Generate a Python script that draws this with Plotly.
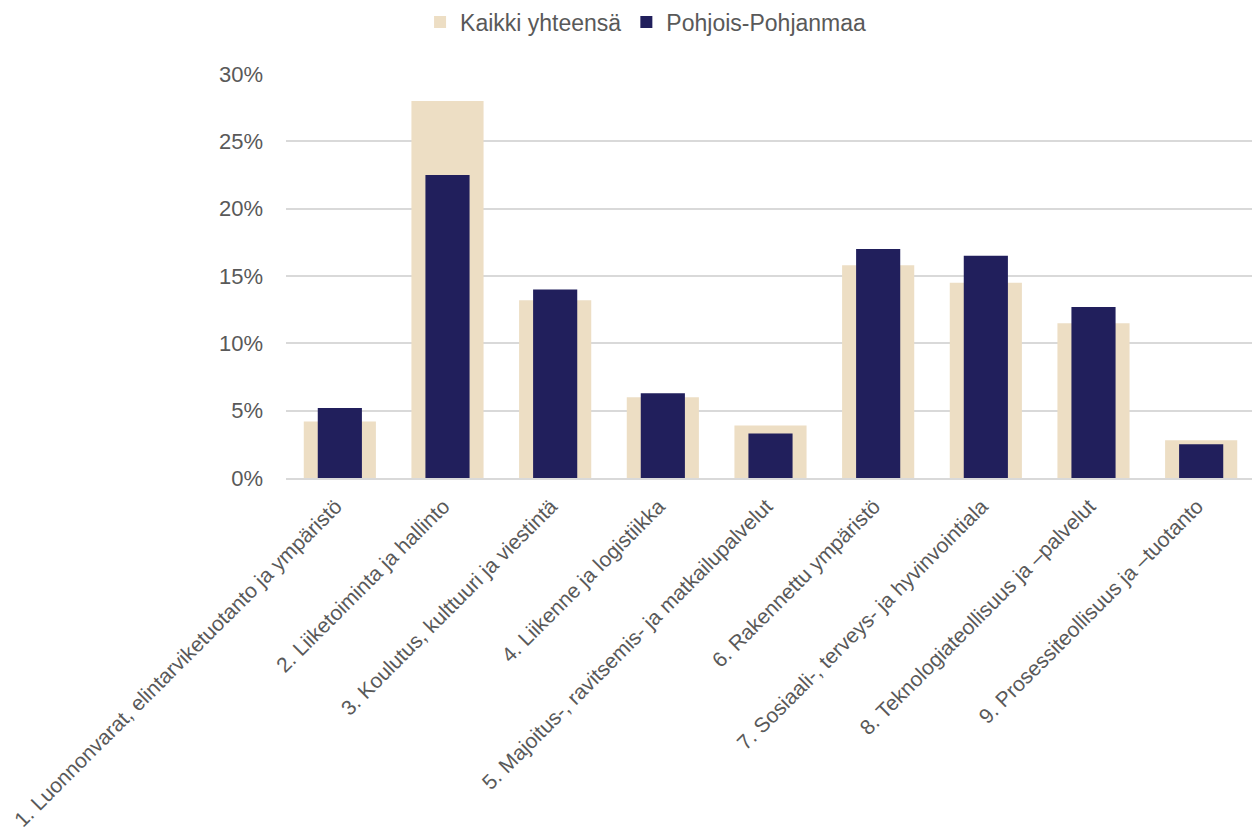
import plotly.graph_objects as go

categories = [
    "1. Luonnonvarat, elintarviketuotanto ja ympäristö",
    "2. Liiketoiminta ja hallinto",
    "3. Koulutus, kulttuuri ja viestintä",
    "4. Liikenne ja logistiikka",
    "5. Majoitus-, ravitsemis- ja matkailupalvelut",
    "6. Rakennettu ympäristö",
    "7. Sosiaali-, terveys- ja hyvinvointiala",
    "8. Teknologiateollisuus ja –palvelut",
    "9. Prosessiteollisuus ja –tuotanto",
]
kaikki = [4.2, 28.0, 13.2, 6.0, 3.9, 15.8, 14.5, 11.5, 2.8]
pohjois = [5.2, 22.5, 14.0, 6.3, 3.3, 17.0, 16.5, 12.7, 2.5]

fig = go.Figure()
fig.add_trace(go.Bar(x=categories, y=kaikki, name="Kaikki yhteensä",
                     marker=dict(color="#EDDEC4", line=dict(width=0)), width=0.67))
fig.add_trace(go.Bar(x=categories, y=pohjois, name="Pohjois-Pohjanmaa",
                     marker=dict(color="#211F5C", line=dict(width=0)), width=0.41))

fig.update_layout(
    barmode="overlay",
    width=1260, height=831,
    margin=dict(l=278, r=13, t=66, b=361),
    paper_bgcolor="white", plot_bgcolor="white",
    font=dict(family="Liberation Sans, Arial, sans-serif", color="#595959", size=21),
    legend=dict(orientation="h", x=0.506, xref="container", xanchor="center",
                y=0.983, yref="container", yanchor="middle",
                font=dict(size=23, color="#595959"), itemwidth=30,
                traceorder="normal"),
    showlegend=True,
)
fig.update_yaxes(range=[0, 30], dtick=5, ticksuffix="%", showgrid=True,
                 gridcolor="#D9D9D9", gridwidth=1.5, zeroline=False,
                 showline=False, tickfont=dict(size=22, color="#595959"),
                 ticks="", ticklen=0, ticklabelstandoff=22, automargin=False)
fig.update_xaxes(tickangle=-45, showline=True, linecolor="#D9D9D9", linewidth=1.5,
                 tickfont=dict(size=21, color="#595959"), ticks="",
                 ticklabelshift=-4, ticklabelstandoff=6, automargin=False)

fig.write_html("out.html")
